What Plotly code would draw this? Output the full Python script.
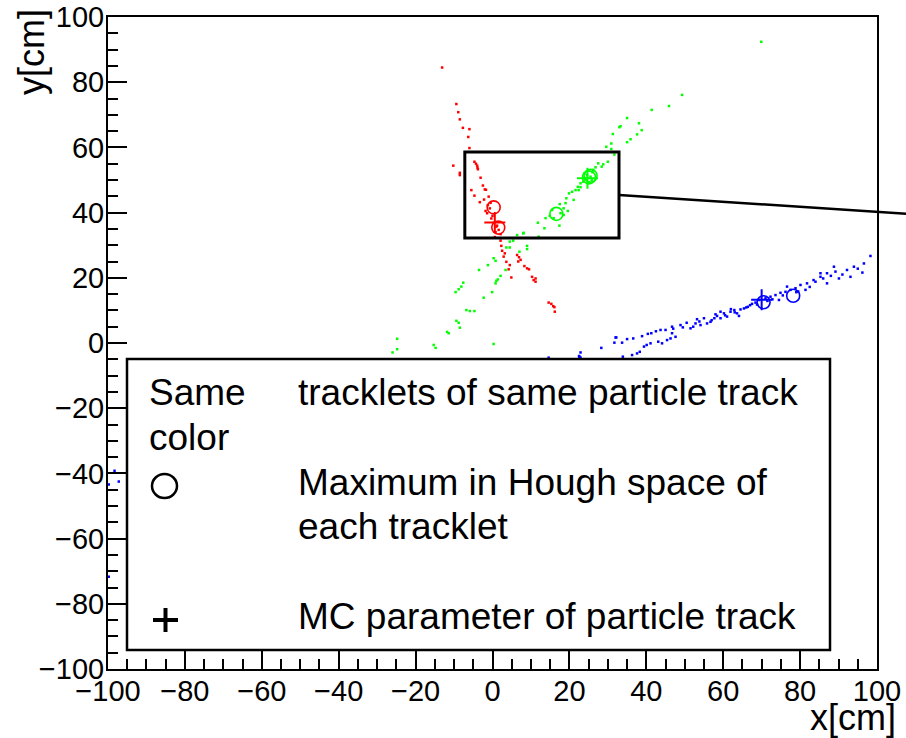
import plotly.graph_objects as go

# ---------------- data (cm) ----------------
red_x = [-13.1, -9.4, -8.9, -8.5, -7.7, -6.0, -6.3, -6.0, -10.2, -8.5, -8.5, -4.7, -4.3, -4.0, -3.9,
         -3.8, -3.1, -2.5, -2.0, -1.7, -5.5, -4.7, -1.0, -3.3, -1.2, -0.7, -1.4, -0.3, 0.3, 1.0,
         1.6, 2.1, 2.1, 2.3, 2.5, 3.2, 2.9, 3.6, 4.5, 4.2, 4.9, 6.4, 6.9, 7.3, 6.7, 8.3, 9.0, 9.5,
         10.3, 10.7, 11.2, 11.2, 14.6, 15.3, 15.8, 16.1, 16.2, -1.8, 0.0, 1.2, -0.5, 0.8, -2.2, 0.6]
red_y = [84.5, 73.3, 70.8, 68.6, 66.0, 65.6, 63.2, 59.8, 54.4, 52.2, 51.5, 55.6, 55.0, 54.4, 53.8,
         53.3, 50.7, 48.3, 47.1, 47.0, 46.9, 45.2, 44.9, 43.2, 42.3, 41.3, 39.8, 38.2, 36.9, 35.7,
         34.7, 33.4, 31.4, 29.8, 28.3, 27.5, 26.5, 24.9, 23.9, 22.6, 20.1, 27.0, 26.3, 25.5, 25.0, 23.6, 22.9, 22.6,
         20.3, 19.3, 19.8, 18.8, 12.4, 12.0, 11.3, 11.0, 9.6, 40.5, 39.0, 36.0, 43.0, 34.0, 44.0, 32.5]

green_x = [69.9, 49.3, 45.9, 41.4, 35.0, 38.1, 38.8, 33.3, 33.0, 37.6, 35.9, 35.0, 31.3, 30.9, 29.6,
           30.9, 31.7, 30.0, 28.8, 28.4, 27.5, 26.8, 26.2, 23.9, 24.6, 25.5, 24.2, 23.6, 25.1, 22.9,
           22.2, 22.9, 21.6, 20.7, 19.9, 21.1, 22.4, 19.2, 19.0, 17.5, 18.5, 19.6, 17.7, 18.5, 17.4,
           15.5, 14.9, 15.9, 13.8, 11.8, 13.5, 8.1, 6.4, 12.0, 8.0, 4.5, 5.4, 3.6, 4.5, 7.0, 9.0,
           9.0, 0.3, 0.8, 3.4, 2.1, 1.4, 0.8, 1.0, -1.2, -3.5, -7.6, -8.1, -8.8, -9.6, -0.1, -2.3,
           -6.8, -5.9, -4.7, -9.4, -8.8, -8.5, -11.8, -11.4, -24.8, -24.8, -26.0, -15.3, -14.8, 0.3,
           26.0, 24.0, 25.8]
green_y = [92.4, 76.1, 72.7, 71.5, 69.0, 67.4, 65.3, 66.5, 66.2, 64.0, 62.5, 61.6, 64.1, 61.2, 60.2,
           59.5, 57.8, 55.6, 54.8, 54.1, 55.1, 53.9, 53.1, 52.0, 51.5, 51.0, 50.0, 49.5, 49.2, 49.0,
           47.9, 47.8, 46.9, 46.4, 45.9, 43.9, 46.9, 44.4, 42.9, 42.6, 41.3, 40.5, 39.8, 39.3, 36.0,
           40.8, 39.0, 38.3, 38.3, 36.9, 35.2, 33.8, 33.1, 32.6, 33.6, 31.1, 31.4, 29.3, 29.3, 28.0, 29.8,
           28.8, 26.0, 25.2, 22.4, 20.6, 19.5, 18.3, 19.1, 23.9, 22.4, 18.5, 17.3, 16.5, 15.6, 15.6, 13.9,
           10.1, 9.8, 9.8, 6.8, 6.2, 4.7, 3.4, 3.0, 1.3, -1.9, -2.9, -0.6, -1.5, -0.3,
           52.4, 50.6, 49.9]

blue_x = [-98.3, -99.8, -97.2, -99.8,
          14.6, 22.5, 22.9, 22.9, 28.3, 31.7, 32.2, 22.6, 32.0, 33.7, 35.0, 36.6, 33.9, 36.3, 37.6, 38.3,
          38.9, 40.4, 41.3, 39.4, 40.1, 41.1, 43.7, 45.0, 43.1, 44.1, 45.4, 46.3, 47.6, 46.7, 46.7, 48.9,
          50.5, 51.5, 52.2, 53.2, 54.1, 55.0, 55.8, 56.7, 57.7, 58.4, 59.3, 60.2, 61.0, 61.9, 62.9, 63.6,
          64.5, 65.4, 66.4, 67.5, 68.4, 69.3, 71.0, 72.3, 73.6, 74.9, 76.2, 77.5, 78.8, 80.1, 81.8, 83.5,
          85.3, 87.0, 88.8, 89.2, 92.2, 94.0, 96.6, 98.3, 96.2, 93.1, 90.1, 87.0, 85.3, 59.3, 64.1, 76.6,
          81.4, 74.5, 49.5, 52.8, 57.0, 60.5, 63.0, 66.0, 68.8, 72.8, 75.5, 79.5, 82.5, 86.0, 91.0, 95.0,
          42.5, 47.0, 53.8, 58.0, 62.0, 67.0, 71.5, 79.0, 84.0, 88.0]
blue_y = [-39.2, -43.4, -42.5, -71.7,
          -4.5, -4.0, -2.9, -4.5, -1.5, 0.1, 1.7, -4.2, 1.7, 0.1, 1.2, 1.4, -4.2, -3.7, -3.2, -2.7,
          2.1, 2.8, 3.0, -1.1, -0.6, -0.1, 4.0, 4.0, 0.4, -0.1, 0.9, 1.4, 1.9, 3.0, 5.0, 5.5,
          6.2, 4.5, 5.0, 7.3, 5.5, 7.6, 6.0, 6.5, 7.6, 8.3, 7.6, 9.1, 8.1, 9.6, 10.1, 9.1,
          10.3, 10.6, 11.1, 12.0, 12.4, 13.2, 13.7, 14.2, 14.7, 15.4, 15.7, 16.3, 16.8, 17.8, 18.3, 19.3,
          21.4, 21.4, 23.4, 21.9, 22.4, 23.4, 24.4, 26.7, 21.6, 20.3, 19.8, 18.3, 20.3, 9.6, 8.3, 17.3,
          16.3, 13.2, 4.8, 6.0, 7.0, 8.5, 9.4, 10.9, 11.8, 13.4, 14.6, 15.8, 17.2, 19.8, 21.0, 22.8,
          3.6, 4.4, 6.6, 8.8, 10.4, 11.6, 12.9, 15.6, 18.8, 20.6]

# Hough maxima (open circles) and MC track parameters (crosses)
red_hough_x, red_hough_y = [0.3, 1.5], [41.6, 35.4]
green_hough_x, green_hough_y = [16.6, 25.1, 25.5], [39.6, 50.8, 51.3]
blue_hough_x, blue_hough_y = [70.5, 78.2], [12.5, 14.5]
red_mc_x, red_mc_y = [0.6], [37.0]
green_mc_x, green_mc_y = [24.7], [50.5]
blue_mc_x, blue_mc_y = [70.0], [13.3]

x_ticks = [-100, -80, -60, -40, -20, 0, 20, 40, 60, 80, 100]
y_ticks = [-100, -80, -60, -40, -20, 0, 20, 40, 60, 80, 100]

RED, GREEN, BLUE = "#ff0000", "#00ff00", "#0000ff"

fig = go.Figure()
for xs, ys, c in [(red_x, red_y, RED), (green_x, green_y, GREEN), (blue_x, blue_y, BLUE)]:
    fig.add_trace(go.Scatter(x=xs, y=ys, mode="markers",
                             marker=dict(symbol="square", size=2.5, color=c, line_width=0),
                             hoverinfo="skip"))
for xs, ys, c in [(red_hough_x, red_hough_y, RED), (green_hough_x, green_hough_y, GREEN),
                  (blue_hough_x, blue_hough_y, BLUE)]:
    fig.add_trace(go.Scatter(x=xs, y=ys, mode="markers",
                             marker=dict(symbol="circle-open", size=13, color=c, line=dict(width=1.6, color=c))))
for xs, ys, c in [(red_mc_x, red_mc_y, RED), (green_mc_x, green_mc_y, GREEN), (blue_mc_x, blue_mc_y, BLUE)]:
    fig.add_trace(go.Scatter(x=xs, y=ys, mode="markers",
                             marker=dict(symbol="cross-thin", size=15, color=c, line=dict(width=2, color=c))))

# pixel geometry of the plotting area
L, R, T, B = 108, 877, 17, 669
W, H = 906, 738


def px(x):
    return (x - L) / (R - L)


def py(y):
    return (B - y) / (B - T)


tickfont = dict(family="Liberation Sans, Arial, sans-serif", size=29, color="black")
axis_common = dict(showgrid=False, zeroline=False, showline=True, linecolor="black", linewidth=2,
                   mirror=True, ticks="inside", ticklen=19, tickwidth=1.5, tickcolor="black",
                   tickfont=tickfont, automargin=False,
                   minor=dict(ticks="inside", ticklen=10, dtick=5, tickwidth=1.5, tickcolor="black",
                              showgrid=False))

fig.update_layout(
    width=W, height=H,
    margin=dict(l=L, r=W - R, t=T, b=H - B, pad=0, autoexpand=False),
    paper_bgcolor="white", plot_bgcolor="white",
    showlegend=False,
    xaxis=dict(range=[-100, 100], tickvals=x_ticks, ticktext=[str(v).replace("-", "\u2212") for v in x_ticks],
               ticklabelstandoff=-5, **axis_common),
    yaxis=dict(range=[-100, 100], tickvals=y_ticks, ticktext=[str(v).replace("-", "\u2212") for v in y_ticks],
               ticklabelstandoff=-4, **axis_common),
)

shapes = []
# zoom rectangle around the intersection region and its pointer line
shapes.append(dict(type="rect", xref="x", yref="y", x0=-7.2, x1=32.9, y0=32.2, y1=58.6,
                   line=dict(color="black", width=3), layer="above"))
shapes.append(dict(type="line", xref="paper", yref="paper", x0=px(619), y0=py(195), x1=px(910), y1=py(214),
                   line=dict(color="black", width=2.5), layer="above"))
# explanation box
shapes.append(dict(type="rect", xref="paper", yref="paper", x0=px(127), x1=px(830), y0=py(650), y1=py(359),
                   fillcolor="white", line=dict(color="black", width=2.5), layer="above"))
shapes.append(dict(type="circle", xref="paper", yref="paper", x0=px(152), x1=px(177), y0=py(498), y1=py(474),
                   line=dict(color="black", width=2.5), layer="above"))
shapes.append(dict(type="line", xref="paper", yref="paper", x0=px(153), x1=px(178), y0=py(620), y1=py(620),
                   line=dict(color="black", width=4), layer="above"))
shapes.append(dict(type="line", xref="paper", yref="paper", x0=px(165.5), x1=px(165.5), y0=py(608), y1=py(632),
                   line=dict(color="black", width=4), layer="above"))
fig.update_layout(shapes=shapes)

lf = dict(family="Liberation Sans, Arial, sans-serif", size=37, color="black")
texts = [("Same", 147, 392), ("color", 147, 437), ("tracklets of same particle track", 296, 392),
         ("Maximum in Hough space of", 296, 482), ("each tracklet", 296, 526),
         ("MC parameter of particle track", 296, 616)]
ann = []
for t, x, y in texts:
    ann.append(dict(text=t, xref="paper", yref="paper", x=px(x), y=py(y), xanchor="left", yanchor="middle",
                    showarrow=False, font=lf))
tf = dict(family="Liberation Sans, Arial, sans-serif", size=36, color="black")
ann.append(dict(text="x[cm]", xref="paper", yref="paper", x=px(898), y=py(717), xanchor="right",
                yanchor="middle", showarrow=False, font=tf))
ann.append(dict(text="y[cm]", xref="paper", yref="paper", x=px(31), y=py(7), xanchor="center",
                yanchor="top", textangle=-90, showarrow=False, font=tf))
fig.update_layout(annotations=ann)

fig.write_html("out.html")
